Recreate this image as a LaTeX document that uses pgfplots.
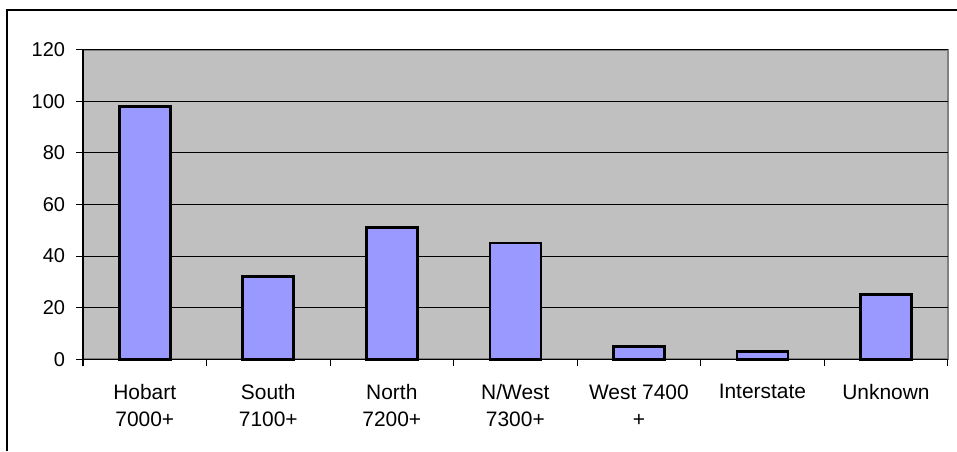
\documentclass[border=0pt]{standalone}
\usepackage{pgfplots}
\pgfplotsset{compat=1.18}
\usepackage{fontspec}
\setmainfont{Liberation Sans}
\definecolor{plotgray}{HTML}{C0C0C0}
\definecolor{bordergray}{HTML}{808080}
\definecolor{barblue}{HTML}{9999FF}
\begin{document}
\fontsize{15}{20}\selectfont
\begin{tikzpicture}[x=0.75pt,y=0.75pt]
\useasboundingbox (0,0) rectangle (957,451);
\draw[black,line width=1pt] (7,0) -- (7,441) -- (957,441);
\begin{axis}[
  at={(83*0.75pt,91.7*0.75pt)}, anchor=south west,
  scale only axis,
  width=864.7*0.75pt, height=309.8*0.75pt,
  xmin=-0.5, xmax=6.5, ymin=0, ymax=120,
  axis background/.style={fill=plotgray,draw=bordergray,line width=1.5pt},
  axis x line*=bottom, axis y line*=left,
  axis line style={black,line width=0.8pt},
  ytick={0,20,...,120},
  ymajorgrids, major grid style={black,line width=0.7pt},
  tick align=outside,
  major tick length=5.25pt,
  tick style={black,line width=0.8pt},
  xtick={-0.5,0.5,...,6.5},
  xticklabels={},
  extra x ticks={0,...,6},
  extra x tick style={tick style={draw=none}},
  extra x tick labels={{Hobart\\7000+},{South\\7100+},{North\\7200+},{N/West\\7300+},{West 7400\\+},{Interstate},{Unknown}},
  xticklabel style={align=center,font=\fontsize{15.7}{20.3}\selectfont,anchor=north,yshift=-8.5pt},
  yticklabel style={font=\fontsize{15}{20}\selectfont,xshift=-3pt},
  /pgf/number format/assume math mode=true,
  ybar, bar width=38.25pt,
  clip=false,
]
\addplot[fill=barblue,draw=black,line width=2pt] coordinates {(0,98) (1,32) (2,51) (3,45) (4,5) (5,3) (6,25)};
\end{axis}
\end{tikzpicture}
\end{document}
